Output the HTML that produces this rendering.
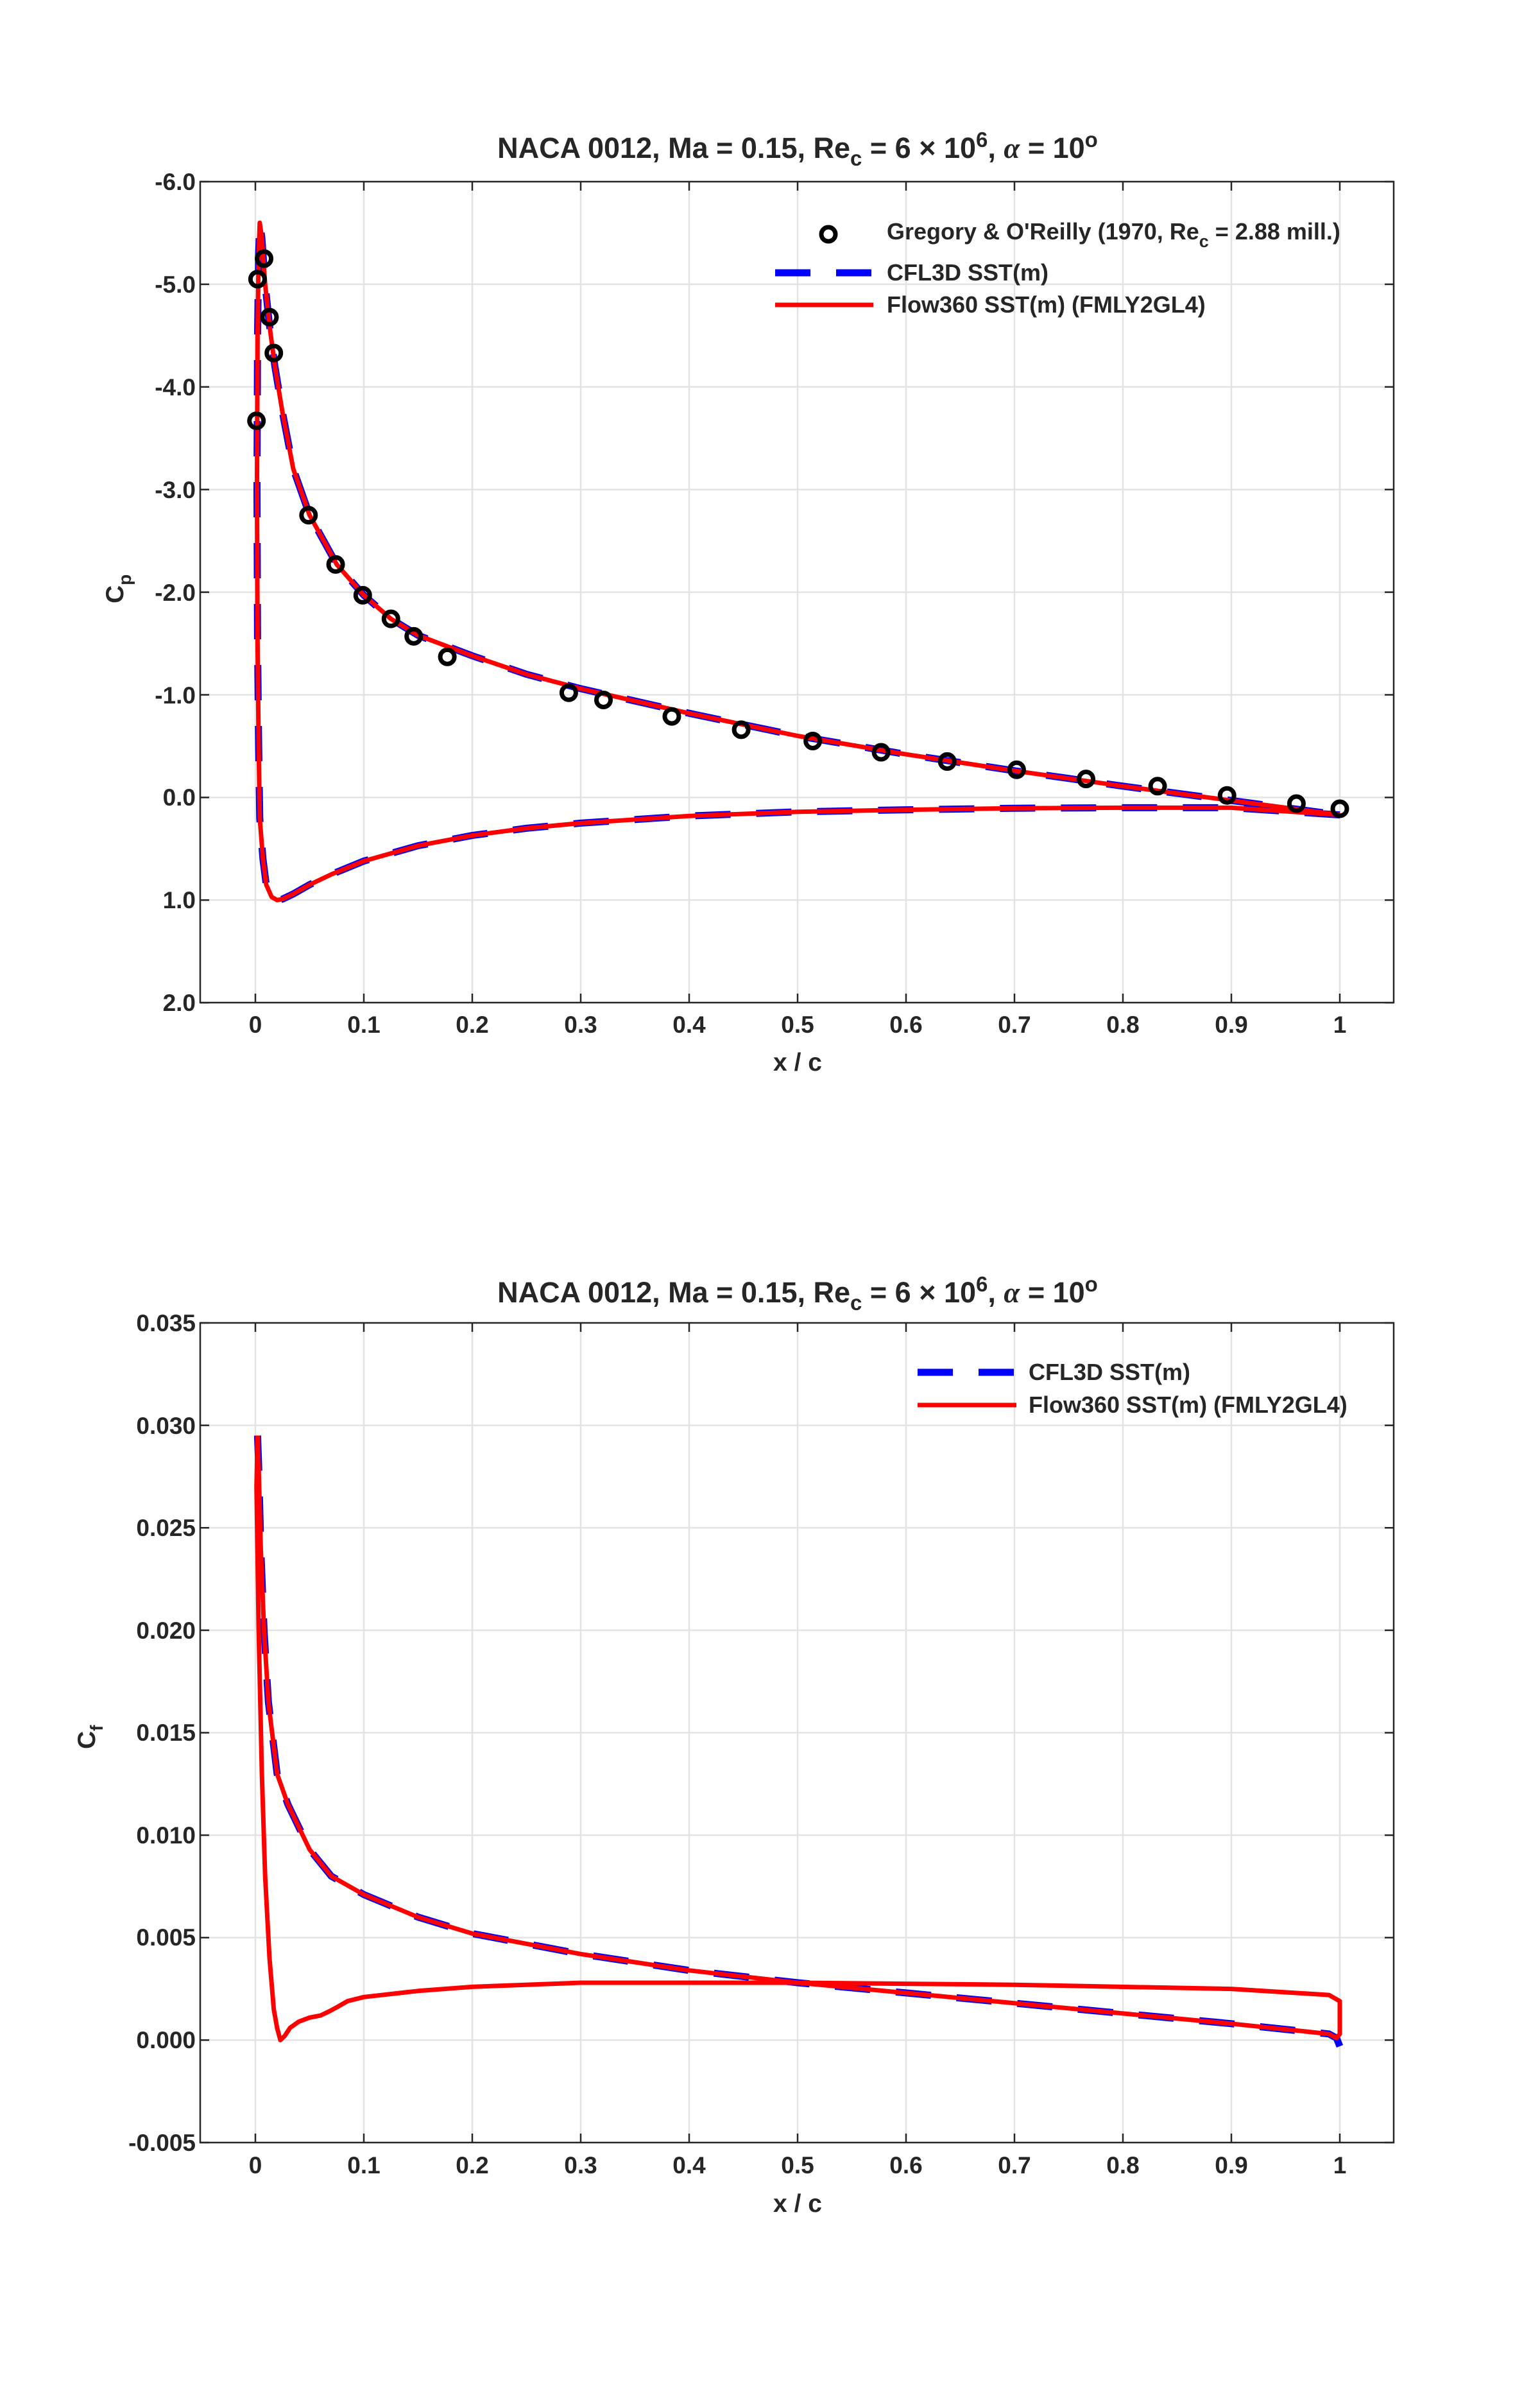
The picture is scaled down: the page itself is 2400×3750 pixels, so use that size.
<!DOCTYPE html>
<html><head><meta charset="utf-8"><style>
html,body{margin:0;padding:0;background:#fff}
svg{display:block}
text{font-family:"Liberation Sans",Arial,sans-serif;font-weight:bold;fill:#262626}
</style></head><body>
<svg id="s" width="2400" height="3750" viewBox="0 0 2400 3750" xmlns="http://www.w3.org/2000/svg">
<rect width="2400" height="3750" fill="#fff"/>
<g id="grid"></g>
<g id="data"></g>
<g id="axes"></g>
<text x="1243" y="246" font-size="45" text-anchor="middle" fill="#000">NACA 0012, Ma = 0.15, Re<tspan font-size="33" dy="12">c</tspan><tspan dy="-12"> = 6 × 10</tspan><tspan font-size="33" dy="-17">6</tspan><tspan dy="17">, </tspan><tspan font-style="italic" font-family="Liberation Serif">α</tspan> = 10<tspan font-size="33" dy="-17">o</tspan></text>
<text x="1243" y="2029" font-size="45" text-anchor="middle" fill="#000">NACA 0012, Ma = 0.15, Re<tspan font-size="33" dy="12">c</tspan><tspan dy="-12"> = 6 × 10</tspan><tspan font-size="33" dy="-17">6</tspan><tspan dy="17">, </tspan><tspan font-style="italic" font-family="Liberation Serif">α</tspan> = 10<tspan font-size="33" dy="-17">o</tspan></text>
<text x="1243" y="1668" font-size="39" text-anchor="middle">x / c</text>
<text x="1243" y="3446" font-size="39" text-anchor="middle">x / c</text>
<text transform="translate(192,940) rotate(-90)" font-size="39">C<tspan font-size="28" dy="12">p</tspan></text>
<text transform="translate(148,2725) rotate(-90)" font-size="39">C<tspan font-size="28" dy="12">f</tspan></text>
<circle cx="1291" cy="365" r="11" fill="none" stroke="#000" stroke-width="7"/>
<text x="1382" y="373" font-size="36" fill="#000">Gregory &amp; O'Reilly (1970, Re<tspan font-size="27" dy="12">c</tspan><tspan dy="-12"> = 2.88 mill.)</tspan></text>
<line x1="1208" y1="425" x2="1361" y2="425" stroke="#0000ff" stroke-width="11" stroke-dasharray="55,40"/>
<text x="1382" y="437" font-size="36" fill="#000">CFL3D SST(m)</text>
<line x1="1208" y1="475" x2="1361" y2="475" stroke="#ff0000" stroke-width="7"/>
<text x="1382" y="487" font-size="36" fill="#000">Flow360 SST(m) (FMLY2GL4)</text>
<line x1="1430" y1="2138" x2="1584" y2="2138" stroke="#0000ff" stroke-width="11" stroke-dasharray="55,40"/>
<text x="1603" y="2150" font-size="36" fill="#000">CFL3D SST(m)</text>
<line x1="1430" y1="2189" x2="1584" y2="2189" stroke="#ff0000" stroke-width="7"/>
<text x="1603" y="2201" font-size="36" fill="#000">Flow360 SST(m) (FMLY2GL4)</text>
<g id="ticklabels">
<text x="398" y="1609" font-size="37" text-anchor="middle">0</text>
<text x="567" y="1609" font-size="37" text-anchor="middle">0.1</text>
<text x="736" y="1609" font-size="37" text-anchor="middle">0.2</text>
<text x="905" y="1609" font-size="37" text-anchor="middle">0.3</text>
<text x="1074" y="1609" font-size="37" text-anchor="middle">0.4</text>
<text x="1243" y="1609" font-size="37" text-anchor="middle">0.5</text>
<text x="1412" y="1609" font-size="37" text-anchor="middle">0.6</text>
<text x="1581" y="1609" font-size="37" text-anchor="middle">0.7</text>
<text x="1750" y="1609" font-size="37" text-anchor="middle">0.8</text>
<text x="1919" y="1609" font-size="37" text-anchor="middle">0.9</text>
<text x="2088" y="1609" font-size="37" text-anchor="middle">1</text>
<text x="398" y="3386" font-size="37" text-anchor="middle">0</text>
<text x="567" y="3386" font-size="37" text-anchor="middle">0.1</text>
<text x="736" y="3386" font-size="37" text-anchor="middle">0.2</text>
<text x="905" y="3386" font-size="37" text-anchor="middle">0.3</text>
<text x="1074" y="3386" font-size="37" text-anchor="middle">0.4</text>
<text x="1243" y="3386" font-size="37" text-anchor="middle">0.5</text>
<text x="1412" y="3386" font-size="37" text-anchor="middle">0.6</text>
<text x="1581" y="3386" font-size="37" text-anchor="middle">0.7</text>
<text x="1750" y="3386" font-size="37" text-anchor="middle">0.8</text>
<text x="1919" y="3386" font-size="37" text-anchor="middle">0.9</text>
<text x="2088" y="3386" font-size="37" text-anchor="middle">1</text>
<text x="305" y="296" font-size="37" text-anchor="end">-6.0</text>
<text x="305" y="456" font-size="37" text-anchor="end">-5.0</text>
<text x="305" y="616" font-size="37" text-anchor="end">-4.0</text>
<text x="305" y="776" font-size="37" text-anchor="end">-3.0</text>
<text x="305" y="936" font-size="37" text-anchor="end">-2.0</text>
<text x="305" y="1096" font-size="37" text-anchor="end">-1.0</text>
<text x="305" y="1255" font-size="37" text-anchor="end">0.0</text>
<text x="305" y="1415" font-size="37" text-anchor="end">1.0</text>
<text x="305" y="1575" font-size="37" text-anchor="end">2.0</text>
<text x="305" y="2074" font-size="37" text-anchor="end">0.035</text>
<text x="305" y="2234" font-size="37" text-anchor="end">0.030</text>
<text x="305" y="2393" font-size="37" text-anchor="end">0.025</text>
<text x="305" y="2553" font-size="37" text-anchor="end">0.020</text>
<text x="305" y="2712" font-size="37" text-anchor="end">0.015</text>
<text x="305" y="2872" font-size="37" text-anchor="end">0.010</text>
<text x="305" y="3031" font-size="37" text-anchor="end">0.005</text>
<text x="305" y="3191" font-size="37" text-anchor="end">0.000</text>
<text x="305" y="3351" font-size="37" text-anchor="end">-0.005</text>
</g>
</svg>
<script>
(function(){
var NS="http://www.w3.org/2000/svg";
function el(p,t,a){var e=document.createElementNS(NS,t);for(var k in a)e.setAttribute(k,a[k]);document.getElementById(p).appendChild(e);return e;}
var L=312,R=2172;
var X=function(x){return 398+x*1690;};
var P1={T:283,B:1562,y:function(v){return 283+(v+6)*159.9;}};
var P2={T:2061,B:3338,y:function(v){return 2061+(0.035-v)*31925;}};
function axes(P,yt){
  for(var i=0;i<=10;i++){var x=X(i/10);
    el("grid","line",{x1:x,y1:P.T,x2:x,y2:P.B,stroke:"#e3e3e3","stroke-width":2.5});
    el("axes","line",{x1:x,y1:P.B,x2:x,y2:P.B-14,stroke:"#262626","stroke-width":2.5});
    el("axes","line",{x1:x,y1:P.T,x2:x,y2:P.T+14,stroke:"#262626","stroke-width":2.5});}
  yt.forEach(function(v){var y=P.y(v);
    el("grid","line",{x1:L,y1:y,x2:R,y2:y,stroke:"#e3e3e3","stroke-width":2.5});
    el("axes","line",{x1:L,y1:y,x2:L+14,y2:y,stroke:"#262626","stroke-width":2.5});
    el("axes","line",{x1:R,y1:y,x2:R-14,y2:y,stroke:"#262626","stroke-width":2.5});});
  el("axes","rect",{x:L,y:P.T,width:R-L,height:P.B-P.T,fill:"none",stroke:"#262626","stroke-width":2.5});
}
axes(P1,[-6,-5,-4,-3,-2,-1,0,1,2]);
axes(P2,[0.035,0.03,0.025,0.02,0.015,0.01,0.005,0,-0.005]);
function path(P,pts){return pts.map(function(p,i){return (i?"L":"M")+X(p[0]).toFixed(1)+","+P.y(p[1]).toFixed(1);}).join(" ");}
var cpLower=[[1,0.17],[0.9,0.1],[0.8,0.1],[0.7,0.105],[0.6,0.12],[0.5,0.14],[0.4,0.18],[0.3,0.25],[0.25,0.3],[0.2,0.37],[0.15,0.47],[0.1,0.62],[0.07,0.75],[0.05,0.85],[0.035,0.94],[0.025,0.99],[0.02,1.0],[0.015,0.97],[0.01,0.85],[0.007,0.6],[0.004,0.2],[0.003,-0.5],[0.002,-1.5],[0.0015,-3],[0.002,-4.5],[0.003,-5.3],[0.004,-5.6]];
var cpUpper=[[0.004,-5.6],[0.006,-5.45],[0.009,-5.0],[0.013,-4.6],[0.018,-4.2],[0.025,-3.75],[0.035,-3.2],[0.05,-2.75],[0.075,-2.27],[0.1,-1.97],[0.125,-1.74],[0.15,-1.58],[0.2,-1.38],[0.25,-1.2],[0.3,-1.06],[0.4,-0.82],[0.5,-0.6],[0.6,-0.42],[0.7,-0.26],[0.8,-0.11],[0.9,0.03],[1,0.17]];
var cp=cpLower.concat(cpUpper.slice(1));
var cfUpper=[[0.002,0.0295],[0.003,0.028],[0.005,0.024],[0.008,0.02],[0.012,0.0165],[0.02,0.013],[0.03,0.0115],[0.05,0.0093],[0.07,0.008],[0.1,0.0071],[0.15,0.006],[0.2,0.0052],[0.3,0.0042],[0.4,0.0034],[0.5,0.0028],[0.6,0.0023],[0.7,0.0018],[0.8,0.0013],[0.9,0.0008],[0.99,0.0003],[0.997,0.0001],[1,-0.0003]];
var cfLower=[[1,0.0019],[0.99,0.0022],[0.9,0.0025],[0.7,0.0027],[0.5,0.0028],[0.3,0.0028],[0.2,0.0026],[0.15,0.0024],[0.1,0.0021],[0.085,0.0019],[0.075,0.0016],[0.068,0.0014],[0.06,0.0012],[0.05,0.0011],[0.04,0.0009],[0.032,0.0006],[0.027,0.0002],[0.023,0.0],[0.02,0.0006],[0.017,0.0015],[0.013,0.004],[0.009,0.008],[0.006,0.013],[0.003,0.02],[0.001,0.027],[0.002,0.0295]];
el("data","path",{d:path(P1,cp),fill:"none",stroke:"#0000ff","stroke-width":11,"stroke-dasharray":"55,40"});
el("data","path",{d:path(P1,cp),fill:"none",stroke:"#ff0000","stroke-width":7,"stroke-linejoin":"round"});
el("data","path",{d:path(P2,cfUpper),fill:"none",stroke:"#0000ff","stroke-width":11,"stroke-dasharray":"55,40"});
el("data","path",{d:path(P2,cfUpper.slice(0,-1).concat([[1,0.0003],[1,0.0019]]).concat(cfLower.slice(1))),fill:"none",stroke:"#ff0000","stroke-width":7,"stroke-linejoin":"round"});
var exp=[[0.001,-3.67],[0.002,-5.05],[0.008,-5.25],[0.013,-4.68],[0.017,-4.33],[0.049,-2.75],[0.074,-2.27],[0.099,-1.97],[0.125,-1.74],[0.146,-1.57],[0.177,-1.37],[0.289,-1.02],[0.321,-0.95],[0.384,-0.79],[0.448,-0.66],[0.514,-0.55],[0.577,-0.44],[0.638,-0.35],[0.702,-0.27],[0.766,-0.18],[0.832,-0.11],[0.896,-0.02],[0.96,0.06],[1.0,0.11]];
exp.forEach(function(p){el("data","circle",{cx:X(p[0]),cy:P1.y(p[1]),r:11,fill:"none",stroke:"#000","stroke-width":7});});
})();
</script>
</body></html>
